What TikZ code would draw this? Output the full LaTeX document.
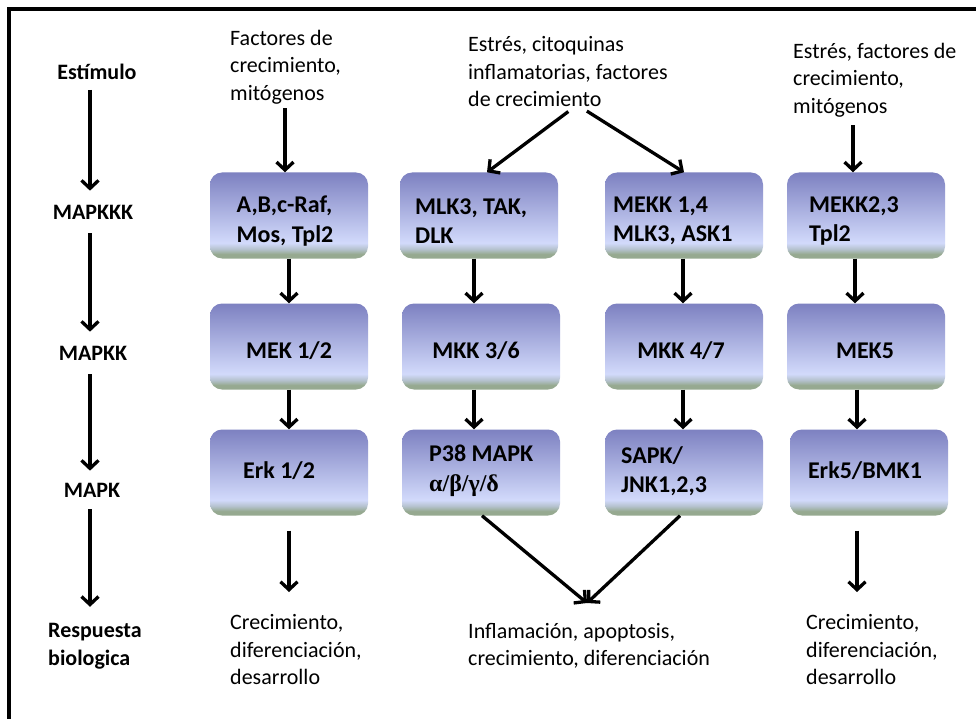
\documentclass[tikz,border=0pt]{standalone}
\usepackage{fontspec}
\setmainfont{Carlito}
\newfontfamily\grkfont{Liberation Serif}
\usetikzlibrary{arrows.meta}
\definecolor{boxtop}{HTML}{7D81C1}
\definecolor{boxmid}{HTML}{D2DAFB}
\definecolor{boxblend}{HTML}{B5C2CE}
\definecolor{boxgreen}{HTML}{96A990}
\pgfdeclareverticalshading{boxshade}{100bp}{color(0bp)=(boxgreen); color(25bp)=(boxgreen); color(27.5bp)=(boxgreen); color(30.5bp)=(boxblend); color(34bp)=(boxmid); color(75bp)=(boxtop); color(100bp)=(boxtop)}
\tikzset{
  box/.style={rounded corners=12pt, shade, shading=boxshade, minimum width=158pt, minimum height=86pt, inner sep=0pt},
  btxt/.style={font=\fontsize{24}{29.5}\selectfont\bfseries, align=left, inner sep=0pt},
  lab/.style={font=\fontsize{22}{28}\selectfont\bfseries, inner sep=2pt},
  txt/.style={font=\fontsize{22}{27.5}\selectfont, align=left, inner sep=0pt, anchor=west},
  arr/.style={line width=3.3pt, -{Straight Barb[length=8pt,width=17pt]}}
}
\begin{document}
\begin{tikzpicture}[x=1pt,y=-1pt]
\useasboundingbox (0,0) rectangle (976,719);
\fill[white] (0,0) rectangle (976,719);
\begin{scope}
\clip (0,0) rectangle (976,719);
\draw[line width=4.3pt, line cap=rect] (8.8,740) -- (8.8,8.8) -- (990,8.8);
\end{scope}

% left labels
\coordinate (lx) at (90,0);
\node[lab] (l1) at (97,72) {Estímulo};
\node[lab] (l2) at (93,212) {MAPKKK};
\node[lab] (l3) at (93,353) {MAPKK};
\node[lab] (l4) at (92,490) {MAPK};
\node[lab, align=left, anchor=west] (l5) at (46,646) {Respuesta\\biologica};

\draw[arr, shorten <=8pt, shorten >=12pt] (l1.south -| lx) -- (l2.north -| lx);
\draw[arr, shorten <=12pt, shorten >=12pt] (l2.south -| lx) -- (l3.north -| lx);
\draw[arr, shorten <=12pt, shorten >=10pt] (l3.south -| lx) -- (l4.north -| lx);
\draw[arr, shorten <=10pt, shorten >=14pt] (l4.south -| lx) -- (l5.north -| lx);

% top texts
\node[txt] (t1) at (230,67) {Factores de\\crecimiento,\\mitógenos};
\node[txt] (t2) at (468,72) {Estrés, citoquinas\\inflamatorias, factores\\de crecimiento};
\node[txt] (t3) at (793,80) {Estrés, factores de\\crecimiento,\\mitógenos};

% boxes
\node[box] (b11) at (289,215.5) {};
\node[box] (b12) at (479,215.5) {};
\node[box] (b13) at (684,215.5) {};
\node[box] (b14) at (866,215.5) {};
\node[box] (b21) at (289,346.5) {};
\node[box] (b22) at (481,346.5) {};
\node[box] (b23) at (684,346.5) {};
\node[box] (b24) at (866,346.5) {};
\node[box] (b31) at (289,472.5) {};
\node[box] (b32) at (481,472.5) {};
\node[box] (b33) at (684,472.5) {};
\node[box] (b34) at (869,472.5) {};

% box texts
\node[btxt] (b11t) at (285,221) {A,B,c-Raf,\\Mos, Tpl2};
\node[btxt, anchor=west] (b12t) at (415,221) {MLK3, TAK,\\DLK};
\node[btxt, anchor=west] (b13t) at (613,221) {MEKK 1,4\\MLK3, ASK1};
\node[btxt, anchor=west] (b14t) at (809,221) {MEKK2,3\\Tpl2};
\node[btxt] (b21t) at (289,351) {MEK 1/2};
\node[btxt] (b22t) at (476,351) {MKK 3/6};
\node[btxt] (b23t) at (681,351) {MKK 4/7};
\node[btxt] (b24t) at (865,351) {MEK5};
\node[btxt] (b31t) at (279,471) {Erk 1/2};
\node[btxt, anchor=west] (b32t) at (429,471) {P38 MAPK\\{\grkfont\bfseries α/β/γ/δ}};
\node[btxt, anchor=west] (b33t) at (621,471) {SAPK/\\JNK1,2,3};
\node[btxt] (b34t) at (865,471) {Erk5/BMK1};

% bottom texts
\node[txt] (t4) at (230,650) {Crecimiento,\\diferenciación,\\desarrollo};
\node[txt] (t5) at (468,646) {Inflamación, apoptosis,\\crecimiento, diferenciación};
\node[txt] (t6) at (806,650) {Crecimiento,\\diferenciación,\\desarrollo};

% arrows from stimuli
\draw[arr, shorten <=4pt] ([xshift=-4pt]t1.south -| b11) -- ([xshift=-4pt]b11.north);
\draw[arr, shorten <=7pt] ([xshift=6pt]t2.south) -- ([xshift=8pt]b12.north);
\draw[arr, shorten <=7pt] ([xshift=13pt]t2.south) -- (b13.north);
\draw[arr, shorten <=8pt] ([xshift=-13pt]t3.south -| b14) -- ([xshift=-13pt]b14.north);

% vertical cascade arrows
\draw[arr] (b11) -- (b21);
\draw[arr] (b21) -- (b31);
\draw[arr] ([xshift=-5pt]b12.south) -- ([xshift=-7pt]b22.north);
\draw[arr] ([xshift=-7pt]b22.south) -- ([xshift=-7pt]b32.north);
\draw[arr] ([xshift=-1pt]b13.south) -- ([xshift=-1pt]b23.north);
\draw[arr] ([xshift=-1pt]b23.south) -- ([xshift=-1pt]b33.north);
\draw[arr] ([xshift=-11pt]b14.south) -- ([xshift=-11pt]b24.north);
\draw[arr] ([xshift=-9pt]b24.south) -- ([xshift=-12pt]b34.north);

% to responses
\coordinate (e1) at (289,592);
\coordinate (e4) at (857,592);
\coordinate (m) at (587,603);
\draw[arr] ([yshift=-15pt]b31.south) -- (e1);
\draw[arr] ([shift={(-12pt,-15pt)}]b34.south) -- (e4);
\draw[arr] ([xshift=1pt]b32.south) -- (m);
\draw[arr] ([xshift=-4pt]b33.south) -- (m);
\end{tikzpicture}
\end{document}
